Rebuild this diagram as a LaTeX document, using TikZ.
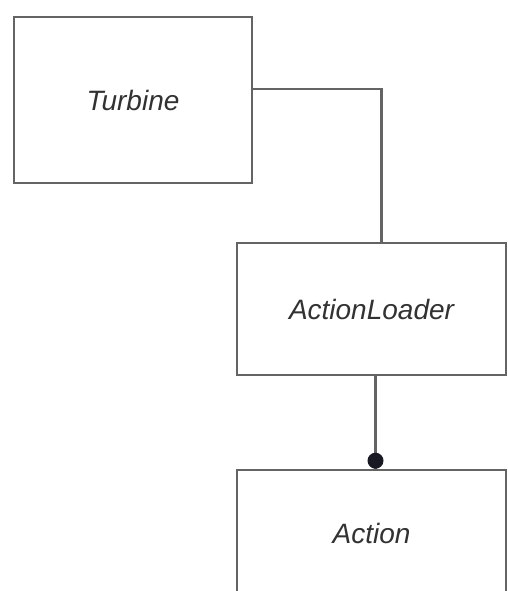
\documentclass[tikz,border=0pt]{standalone}
\usepackage{fontspec}
\setmainfont{Liberation Sans}
\usetikzlibrary{positioning, arrows.meta}
\definecolor{linegray}{RGB}{100, 100, 100}
\definecolor{textgray}{RGB}{50, 50, 50}
\definecolor{dotblack}{RGB}{25, 25, 35}

\begin{document}
\begin{tikzpicture}[
        x=1pt, y=-1pt,
        box/.style={draw=linegray, line width=2.6pt, fill=white, font=\fontsize{28}{32}\selectfont\itshape, text=textgray, inner sep=0pt},
        link/.style={draw=linegray, line width=2.6pt}
    ]
    \useasboundingbox (0,0) rectangle (508,591);
    \clip (0,0) rectangle (508,591);

    % classes
    \node[box, minimum width=238pt, minimum height=166pt] (turbine) at (133, 100) {Turbine};
    \node[box, minimum width=269pt, minimum height=132pt] (loader) at (371.5, 309) {ActionLoader};
    \node[box, minimum width=269pt, minimum height=126pt] (action) at (371.5, 533) {Action};

    % associations
    \draw[link] ([yshift=11pt]turbine.east) -| ([xshift=10pt]loader.north);
    \draw[link] ([xshift=4pt]loader.south) -- ([xshift=4pt]action.north);
    \fill[dotblack] ([xshift=4pt, yshift=8pt]action.north) circle (8pt);
\end{tikzpicture}
\end{document}
